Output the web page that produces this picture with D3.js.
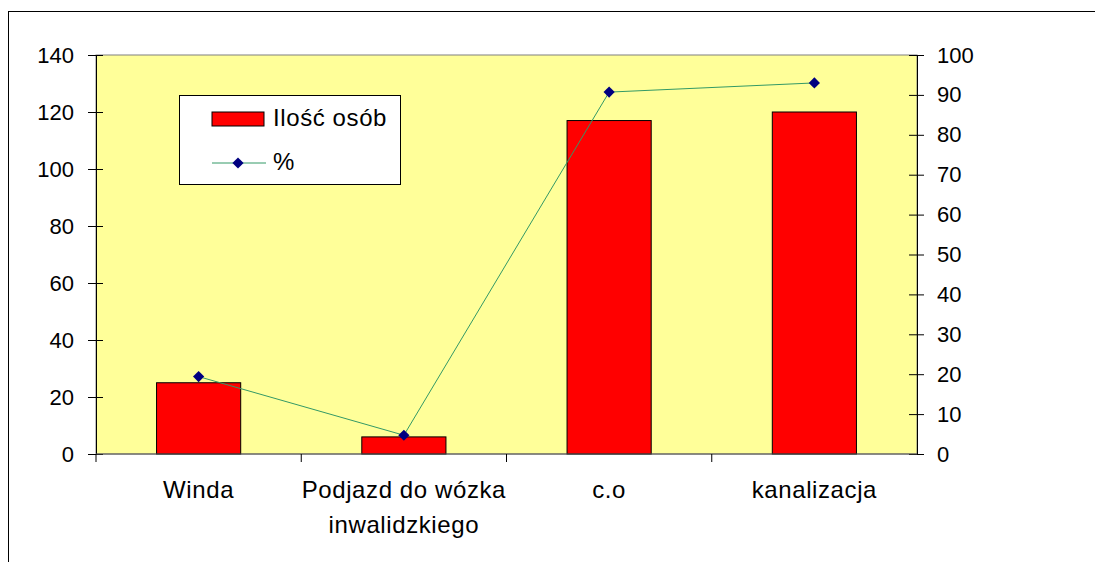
<!DOCTYPE html>
<html>
<head>
<meta charset="utf-8">
<script src="https://cdn.jsdelivr.net/npm/d3@7"></script>
<style>
  body { margin: 0; background: #fff; }
  svg { display: block; }
  svg text { font-family: "Liberation Sans", Arial, sans-serif; fill: #000; }
</style>
</head>
<body>
<svg id="chart"></svg>
<script>
// Data
const categories = ["Winda", "Podjazd do wózka\ninwalidzkiego", "c.o", "kanalizacja"];
const counts = [25, 6, 117, 120];
const percents = [19.4, 4.7, 90.7, 93.0];
const leftTicks = [0, 20, 40, 60, 80, 100, 120, 140];
const rightTicks = [0, 10, 20, 30, 40, 50, 60, 70, 80, 90, 100];
const legendLabels = ["Ilość osób", "%"];

const width = 1095, height = 562;
const plot = { left: 96, top: 55, right: 917, bottom: 454 };

const svg = d3.select("#chart").attr("width", width).attr("height", height);

// outer chart border (runs off the right and bottom edges)
svg.append("rect")
  .attr("x", 8.5).attr("y", 11.5)
  .attr("width", width + 10).attr("height", height + 10)
  .attr("fill", "none").attr("stroke", "#000").attr("stroke-width", 1);

const x = d3.scaleBand().domain(d3.range(categories.length))
  .range([plot.left, plot.right]).paddingInner(0.59).paddingOuter(0.295);
const xBand = d3.scaleBand().domain(d3.range(categories.length))
  .range([plot.left, plot.right]);
const yL = d3.scaleLinear().domain([0, 140]).range([plot.bottom, plot.top]);
const yR = d3.scaleLinear().domain([0, 100]).range([plot.bottom, plot.top]);

// plot area
svg.append("rect")
  .attr("x", plot.left).attr("y", plot.top)
  .attr("width", plot.right - plot.left).attr("height", plot.bottom - plot.top)
  .attr("fill", "#ffff99").attr("stroke", "#808080").attr("stroke-width", 1);

// bars
svg.selectAll("rect.bar")
  .data(counts)
  .enter()
  .append("rect")
  .attr("class", "bar")
  .attr("x", (d, i) => x(i))
  .attr("y", (d) => yL(d))
  .attr("width", x.bandwidth())
  .attr("height", (d) => yL(0) - yL(d))
  .attr("fill", "#ff0000")
  .attr("stroke", "#000")
  .attr("stroke-width", 1);

// left axis
const leftAxis = svg.append("g")
  .attr("transform", `translate(${plot.left},0)`)
  .call(d3.axisLeft(yL).tickValues(leftTicks).tickSize(0).tickPadding(22));
leftAxis.select(".domain").attr("stroke", "#000");
leftAxis.selectAll(".tick").append("line")
  .attr("x1", -8).attr("x2", 7).attr("stroke", "#000");
leftAxis.selectAll("text").style("font-size", "22px");

// right axis
const rightAxis = svg.append("g")
  .attr("transform", `translate(${plot.right},0)`)
  .call(d3.axisRight(yR).tickValues(rightTicks).tickSize(0).tickPadding(20));
rightAxis.select(".domain").attr("stroke", "#000");
rightAxis.selectAll(".tick").append("line")
  .attr("x1", -8).attr("x2", 7).attr("stroke", "#000");
rightAxis.selectAll("text").style("font-size", "22px");

// bottom axis with ticks between categories
const bottom = svg.append("g").attr("transform", `translate(0,${plot.bottom})`);
bottom.append("line")
  .attr("x1", plot.left).attr("x2", plot.right)
  .attr("stroke", "#555").attr("stroke-width", 1.2);
bottom.selectAll("line.sep")
  .data(d3.range(categories.length))
  .enter()
  .append("line")
  .attr("class", "sep")
  .attr("x1", (d) => xBand(d)).attr("x2", (d) => xBand(d))
  .attr("y1", 0).attr("y2", 8)
  .attr("stroke", "#000");

const catLabels = bottom.selectAll("text.cat")
  .data(categories)
  .enter()
  .append("text")
  .attr("class", "cat")
  .attr("text-anchor", "middle")
  .style("font-size", "24px")
  .style("letter-spacing", "0.6px")
  .attr("x", (d, i) => xBand(i) + xBand.bandwidth() / 2);
catLabels.each(function (d) {
  const t = d3.select(this);
  d.split("\n").forEach((line, k) => {
    t.append("tspan")
      .attr("x", t.attr("x"))
      .attr("y", 44 + k * 35)
      .text(line);
  });
});

// percent line
const line = d3.line()
  .x((d, i) => xBand(i) + xBand.bandwidth() / 2)
  .y((d) => yR(d));
svg.append("path")
  .datum(percents)
  .attr("d", line)
  .attr("fill", "none")
  .attr("stroke", "#339966")
  .attr("stroke-width", 1);

const diamond = d3.symbol().type(d3.symbolDiamond2).size(80);
svg.selectAll("path.marker")
  .data(percents)
  .enter()
  .append("path")
  .attr("class", "marker")
  .attr("d", diamond)
  .attr("transform", (d, i) => `translate(${xBand(i) + xBand.bandwidth() / 2},${yR(d)})`)
  .attr("fill", "#000080");

// legend
const legend = svg.append("g");
legend.append("rect")
  .attr("x", 179.5).attr("y", 95.5)
  .attr("width", 221).attr("height", 89)
  .attr("fill", "#fff").attr("stroke", "#000");
legend.append("rect")
  .attr("x", 212).attr("y", 112)
  .attr("width", 52).attr("height", 14)
  .attr("fill", "#ff0000").attr("stroke", "#000");
legend.append("text")
  .attr("x", 273).attr("y", 126)
  .style("font-size", "24px")
  .style("letter-spacing", "0.6px")
  .text(legendLabels[0]);
legend.append("line")
  .attr("x1", 212).attr("x2", 266).attr("y1", 163).attr("y2", 163)
  .attr("stroke", "#339966");
legend.append("path")
  .attr("d", diamond)
  .attr("transform", "translate(238,163)")
  .attr("fill", "#000080");
legend.append("text")
  .attr("x", 273).attr("y", 170)
  .style("font-size", "24px")
  .text(legendLabels[1]);
</script>
</body>
</html>
